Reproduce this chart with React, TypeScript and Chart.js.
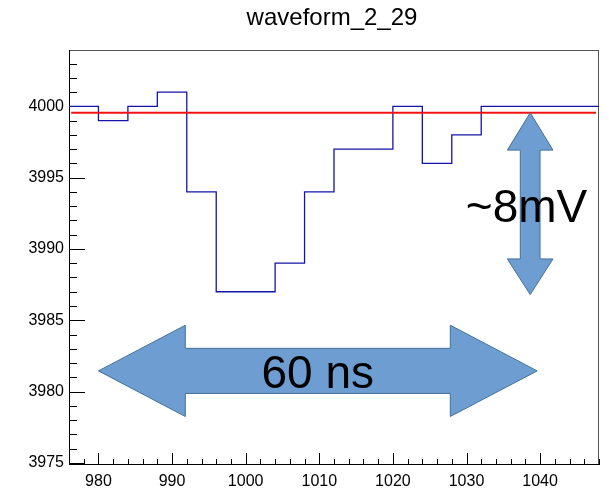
import React, { useEffect, useRef } from "react";
import { Chart, registerables } from "chart.js";

Chart.register(...registerables);

// ---------- data ----------
const chartTitle = "waveform_2_29";
const binEdges = [976, 980, 984, 988, 992, 996, 1000, 1004, 1008, 1012, 1016, 1020, 1024, 1028, 1032, 1036, 1040, 1044, 1048];
const binValues = [4000, 3999, 4000, 4001, 3994, 3987, 3987, 3989, 3994, 3997, 3997, 4000, 3996, 3998, 4000, 4000, 4000, 4000];
const baselineX = [976.3, 1047.6];
const baselineY = 3999.55;
const xTickValues = [980, 990, 1000, 1010, 1020, 1030, 1040];
const yTickValues = [3975, 3980, 3985, 3990, 3995, 4000];
const xRange = [976, 1048];
const yRange = [3974.85, 4003.95];

// annotations (data units)
const hArrowLabel = "60 ns";
const vArrowLabel = "~8mV";

const FONT = '"Liberation Sans", Arial, Helvetica, sans-serif';

function drawPoly(ctx: CanvasRenderingContext2D, pts: number[][]) {
  ctx.beginPath();
  pts.forEach((p, i) => (i === 0 ? ctx.moveTo(p[0], p[1]) : ctx.lineTo(p[0], p[1])));
  ctx.closePath();
  ctx.fillStyle = "#6e9dd1";
  ctx.fill();
  ctx.strokeStyle = "#41719c";
  ctx.lineWidth = 1;
  ctx.stroke();
}

const decorPlugin = {
  id: "decor",
  beforeDatasetsDraw(chart: any) {
    const ctx: CanvasRenderingContext2D = chart.ctx;
    const { left, right, top, bottom } = chart.chartArea;
    const xs = chart.scales.x;
    const ys = chart.scales.y;
    ctx.save();
    ctx.strokeStyle = "#000";
    ctx.lineWidth = 1;
    ctx.beginPath();
    for (let v = Math.ceil(ys.min); v <= ys.max; v += 1) {
      const p = Math.round(ys.getPixelForValue(v)) + 0.5;
      const len = v % 5 === 0 ? 16 : 8;
      ctx.moveTo(left, p);
      ctx.lineTo(left + len, p);
    }
    for (let v = Math.ceil(xs.min / 2) * 2; v <= xs.max; v += 2) {
      const p = Math.round(xs.getPixelForValue(v)) + 0.5;
      const len = v % 10 === 0 ? 12 : 6;
      ctx.moveTo(p, bottom);
      ctx.lineTo(p, bottom - len);
    }
    ctx.stroke();
    // frame
    ctx.strokeStyle = "#555";
    ctx.beginPath();
    ctx.moveTo(left, top + 0.5);
    ctx.lineTo(right, top + 0.5);
    ctx.moveTo(right - 0.5, top);
    ctx.lineTo(right - 0.5, bottom);
    ctx.stroke();
    ctx.strokeStyle = "#000";
    ctx.beginPath();
    ctx.moveTo(left + 0.5, top);
    ctx.lineTo(left + 0.5, bottom);
    ctx.moveTo(left, bottom - 0.5);
    ctx.lineTo(right, bottom - 0.5);
    ctx.stroke();
    ctx.restore();
  },
  afterDatasetsDraw(chart: any) {
    const ctx: CanvasRenderingContext2D = chart.ctx;
    const xs = chart.scales.x;
    const ys = chart.scales.y;
    const X = (v: number) => xs.getPixelForValue(v);
    const Y = (v: number) => ys.getPixelForValue(v);
    ctx.save();
    // horizontal double arrow
    {
      const x0 = X(980), x1 = X(1039.6);
      const b0 = X(991.8), b1 = X(1027.8);
      const cy = Y(3981.45);
      const sh = Y(3981.45 - 1.58) - cy;
      const hh = Y(3981.45 - 3.2) - cy;
      drawPoly(ctx, [
        [x0, cy], [b0, cy - hh], [b0, cy - sh], [b1, cy - sh], [b1, cy - hh],
        [x1, cy], [b1, cy + hh], [b1, cy + sh], [b0, cy + sh], [b0, cy + hh],
      ]);
    }
    // vertical double arrow
    {
      const cx = X(1038.65);
      const sw = X(1038.65 + 1.34) - cx;
      const hw = X(1038.65 + 3.1) - cx;
      const y0 = Y(3999.55), y1 = Y(3986.8);
      const b0 = Y(3996.93), b1 = Y(3989.3);
      drawPoly(ctx, [
        [cx, y0], [cx + hw, b0], [cx + sw, b0], [cx + sw, b1], [cx + hw, b1],
        [cx, y1], [cx - hw, b1], [cx - sw, b1], [cx - sw, b0], [cx - hw, b0],
      ]);
    }
    ctx.fillStyle = "#000";
    ctx.font = `46px ${FONT}`;
    ctx.textBaseline = "alphabetic";
    ctx.textAlign = "center";
    ctx.fillText(hArrowLabel, X(1009.8), Y(3980.24));
    ctx.textAlign = "left";
    ctx.fillText(vArrowLabel, X(1029.9), Y(3991.9));
    ctx.restore();
  },
  afterDraw(chart: any) {
    const ctx: CanvasRenderingContext2D = chart.ctx;
    const { left, right } = chart.chartArea;
    ctx.save();
    ctx.fillStyle = "#000";
    ctx.font = `24px ${FONT}`;
    ctx.textAlign = "center";
    ctx.textBaseline = "alphabetic";
    ctx.fillText(chartTitle, (left + right) / 2 - 2, 25);
    ctx.restore();
  },
};

export default function App() {
  const ref = useRef<HTMLCanvasElement | null>(null);
  useEffect(() => {
    if (!ref.current) return;
    const histPoints = binEdges.map((x, i) => ({ x, y: binValues[Math.min(i, binValues.length - 1)] }));
    const chart = new Chart(ref.current, {
      type: "line",
      data: {
        datasets: [
          {
            label: "baseline",
            data: baselineX.map((x) => ({ x, y: baselineY })),
            borderColor: "#f01414",
            borderWidth: 2,
            pointRadius: 0,
            fill: false,
            order: 0,
          },
          {
            label: chartTitle,
            data: histPoints,
            stepped: "before",
            borderColor: "#1414a8",
            borderWidth: 1.3,
            pointRadius: 0,
            fill: false,
            order: 1,
          },
        ],
      },
      options: {
        animation: false,
        responsive: false,
        layout: { padding: { top: 50, right: 10, left: 0, bottom: 0 } },
        plugins: { legend: { display: false }, tooltip: { enabled: false }, title: { display: false } },
        scales: {
          x: {
            type: "linear",
            min: xRange[0],
            max: xRange[1],
            grid: { display: false, drawTicks: false },
            border: { display: false },
            afterBuildTicks: (s: any) => {
              s.ticks = xTickValues.map((v) => ({ value: v }));
            },
            afterFit: (s: any) => {
              s.height = 23;
            },
            ticks: {
              color: "#000",
              font: { family: FONT, size: 16 },
              padding: 7,
              maxRotation: 0,
              autoSkip: false,
              callback: (v: any) => String(v),
            },
          },
          y: {
            type: "linear",
            min: yRange[0],
            max: yRange[1],
            grid: { display: false, drawTicks: false },
            border: { display: false },
            afterBuildTicks: (s: any) => {
              s.ticks = yTickValues.map((v) => ({ value: v }));
            },
            afterFit: (s: any) => {
              s.width = 69;
            },
            ticks: {
              color: "#000",
              font: { family: FONT, size: 16 },
              padding: 5,
              autoSkip: false,
              callback: (v: any) => String(v),
            },
          },
        },
      },
      plugins: [decorPlugin],
    } as any);
    return () => chart.destroy();
  }, []);
  return (
    <div style={{ position: "absolute", left: 0, top: 0, width: 609, height: 488, background: "#fff" }}>
      <canvas ref={ref} width={609} height={488} style={{ display: "block" }} />
    </div>
  );
}
